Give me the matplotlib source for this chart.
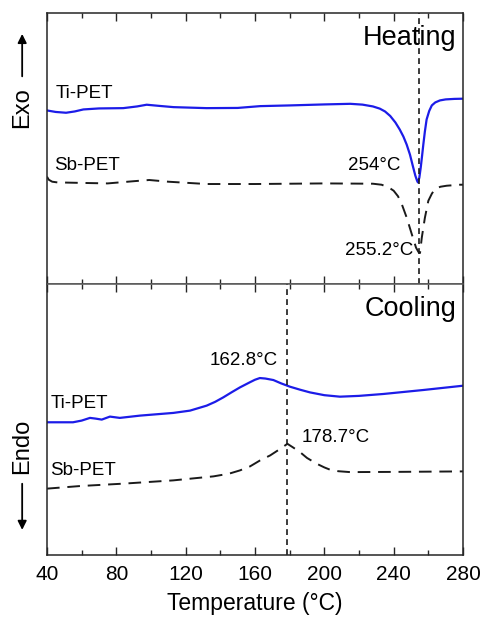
import matplotlib
matplotlib.use("Agg")
import matplotlib.pyplot as plt
from matplotlib.patches import FancyArrowPatch
from matplotlib.ticker import MultipleLocator

plt.rcParams['font.family'] = ['Liberation Sans', 'DejaVu Sans']

# DSC traces (temperature in degC, heat flow in arbitrary units, shifted for clarity)
heat_ti_t = [40, 45, 51, 56, 61, 70, 84, 92, 97.5, 105, 113, 132, 150, 163, 180, 200,
             215, 222, 228, 232, 235, 238, 241, 243.5, 245.6, 247.5, 249.4, 251,
             252.5, 253.5, 254, 254.8, 255.6, 256.4, 257.1, 258, 259, 260.5, 262,
             264, 266.7, 270, 275, 280]
heat_ti_q = [173, 171.5, 170.7, 172, 174, 175, 175.3, 177, 178.7, 177.5, 176.3, 175.3,
             175.5, 177.3, 178, 179, 179.6, 178.8, 177, 174.8, 172, 167.5, 161,
             154, 147, 139, 129, 118, 108, 103, 101.3, 106, 116, 128, 139, 152,
             164, 172.5, 178, 181, 183, 184, 184.5, 184.7]

heat_sb_t = [40, 41, 43, 46, 60, 75, 90, 99, 110, 132, 160, 200, 228, 233, 237, 240,
             242.5, 244.6, 247.5, 250.4, 252.9, 254.3, 255.2, 256.2, 258, 260, 262,
             263.8, 267, 270.6, 278.3, 280]
heat_sb_q = [107, 104, 102, 101.3, 100.8, 100.3, 102.5, 103.7, 102, 99.7, 99.7, 100.3,
             100, 99, 96.5, 93, 87.5, 80, 66.3, 50, 36.3, 32, 31, 46, 66, 83, 90,
             94.7, 97, 98, 99, 99]

cool_ti_t = [40, 55, 60, 64.8, 68, 71.6, 76.3, 82, 93.7, 112.9, 122.5, 132.1, 137,
             141.7, 146.5, 151.3, 157.1, 160, 162.8, 166, 170.6, 175, 180.2, 186,
             191.7, 200, 209, 220, 234, 257.1, 280]
cool_ti_q = [133.3, 133.3, 135, 137.7, 137, 136, 139, 137.7, 140, 142.7, 145, 150,
             153.8, 158.3, 163.4, 168.3, 173.5, 176, 177.7, 177.2, 175.7, 172.4, 169,
             166, 163.3, 160.5, 159, 159.8, 161.7, 165.7, 170]

cool_sb_t = [40, 59, 84, 112.9, 136, 145, 151.3, 157.1, 162.9, 168.7, 174, 178.7,
             182, 186, 190, 195.6, 200, 203.3, 208, 214.8, 240, 280]
cool_sb_q = [66.7, 69.3, 71.7, 75, 79, 81.7, 85, 89, 95, 100, 106, 111.7, 108,
             103.3, 97.5, 91.7, 88, 85.7, 84.2, 83.3, 83.5, 84]

peak_heat_line = 254.5
peak_cool_line = 178.7
x_ticks = [40, 80, 120, 160, 200, 240, 280]

blue = '#1c1ce8'
frame = '#262626'
sb_dash = (0, (6.5, 4))
vline_dash = (0, (3.5, 2.5))

fig = plt.figure(figsize=(4.82, 6.23), dpi=100)
gs = fig.add_gridspec(2, 1, left=0.0975, right=0.9606, top=0.979, bottom=0.109,
                      hspace=0)
ax1 = fig.add_subplot(gs[0])
ax2 = fig.add_subplot(gs[1], sharex=ax1)

for ax in (ax1, ax2):
    ax.set_xlim(40, 280)
    ax.xaxis.set_major_locator(MultipleLocator(40))
    ax.xaxis.set_minor_locator(MultipleLocator(20))
    ax.tick_params(axis='x', which='both', direction='in', top=True, bottom=True,
                   color=frame)
    ax.tick_params(axis='x', which='major', length=6, width=1)
    ax.tick_params(axis='x', which='minor', length=3.5, width=1)
    ax.set_yticks([])
    for s in ax.spines.values():
        s.set_color(frame)
        s.set_linewidth(1.1)

ax1.spines['bottom'].set_color('#555555')
ax2.spines['top'].set_color('#555555')
ax1.tick_params(axis='x', labelbottom=False)
ax2.set_xticks(x_ticks)
ax2.tick_params(axis='x', labelsize=15, pad=7)
ax2.set_xlabel('Temperature (°C)', fontsize=16.5, labelpad=6)

# heating scans
ax1.set_ylim(0, 270)
ax1.plot(heat_ti_t, heat_ti_q, color=blue, lw=1.6)
ax1.plot(heat_sb_t, heat_sb_q, color='#1a1a1a', lw=1.4, ls=sb_dash)
ax1.axvline(peak_heat_line, color='#1a1a1a', lw=1.2, ls=vline_dash)
ax1.text(276, 245, 'Heating', fontsize=19.5, ha='right', va='center')
ax1.text(45, 190, 'Ti-PET', fontsize=13.5, ha='left', va='center')
ax1.text(44, 118, 'Sb-PET', fontsize=13.5, ha='left', va='center')
ax1.text(244, 118, '254°C', fontsize=13.5, ha='right', va='center')
ax1.text(251.5, 33, '255.2°C', fontsize=13.5, ha='right', va='center')

# cooling scans
ax2.set_ylim(0, 272)
ax2.plot(cool_ti_t, cool_ti_q, color=blue, lw=1.6)
ax2.plot(cool_sb_t, cool_sb_q, color='#1a1a1a', lw=1.4, ls=sb_dash)
ax2.axvline(peak_cool_line, color='#1a1a1a', lw=1.2, ls=vline_dash)
ax2.text(276, 247, 'Cooling', fontsize=19.5, ha='right', va='center')
ax2.text(42, 152, 'Ti-PET', fontsize=13.5, ha='left', va='center')
ax2.text(42, 85, 'Sb-PET', fontsize=13.5, ha='left', va='center')
ax2.text(153.7, 195, '162.8°C', fontsize=13.5, ha='center', va='center')
ax2.text(187, 118, '178.7°C', fontsize=13.5, ha='left', va='center')

# Exo / Endo direction markers
fig.text(0.046, 0.8266, 'Exo', rotation=90, fontsize=17, ha='center', va='center')
fig.text(0.046, 0.2833, 'Endo', rotation=90, fontsize=17, ha='center', va='center')
fig.add_artist(FancyArrowPatch(
    (0.046, 0.873), (0.046, 0.950), transform=fig.transFigure,
    arrowstyle='-|>', mutation_scale=13, lw=1.3, color='black'))
fig.add_artist(FancyArrowPatch(
    (0.046, 0.228), (0.046, 0.145), transform=fig.transFigure,
    arrowstyle='-|>', mutation_scale=13, lw=1.3, color='black'))

fig.savefig('out.png', dpi=100)
